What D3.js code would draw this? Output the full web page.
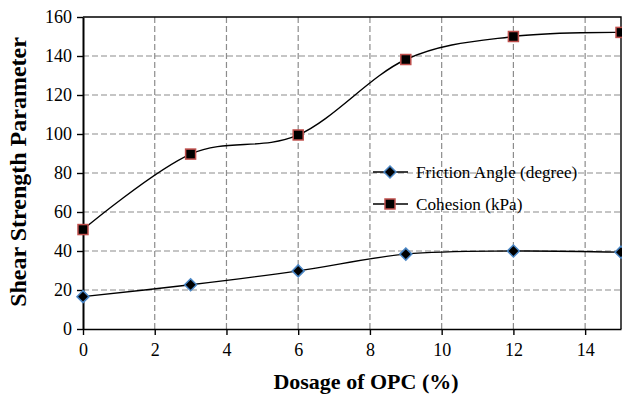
<!DOCTYPE html>
<html>
<head>
<meta charset="utf-8">
<script src="https://cdn.jsdelivr.net/npm/d3@7"></script>
<style>
  body { margin: 0; background: #fff; }
  text { font-family: "Liberation Serif", "Times New Roman", serif; }
</style>
</head>
<body>
<div id="chart"></div>
<script>
const dosage = [0, 3, 6, 9, 12, 15];
const friction = [16.6, 22.7, 29.8, 38.4, 40, 39.4];
const cohesion = [51, 89.7, 99.5, 138.2, 150, 152.1];
const seriesNames = ['Friction Angle (degree)', 'Cohesion (kPa)'];
const xTicks = [0, 2, 4, 6, 8, 10, 12, 14];
const yTicks = [0, 20, 40, 60, 80, 100, 120, 140, 160];

const width = 622;
const height = 399;
const margin = { top: 17, right: 1, bottom: 70, left: 83 };

const svg = d3.select('#chart')
  .append('svg')
  .attr('width', width)
  .attr('height', height);

const x = d3.scaleLinear()
  .domain([0, 15])
  .range([margin.left, width - margin.right]);

const y = d3.scaleLinear()
  .domain([0, 160])
  .range([height - margin.bottom, margin.top]);

// grid
svg.append('g')
  .selectAll('line')
  .data(yTicks.filter(d => d > 0 && d < 160))
  .join('line')
  .attr('x1', x(0)).attr('x2', x(15))
  .attr('y1', d => y(d)).attr('y2', d => y(d))
  .attr('stroke', '#8c8c8c')
  .attr('stroke-width', 1.2)
  .attr('stroke-dasharray', '6,3');

svg.append('g')
  .selectAll('line')
  .data(xTicks.filter(d => d > 0))
  .join('line')
  .attr('x1', d => x(d)).attr('x2', d => x(d))
  .attr('y1', y(0)).attr('y2', y(160))
  .attr('stroke', '#8c8c8c')
  .attr('stroke-width', 1.2)
  .attr('stroke-dasharray', '6,3');

// top and right border
svg.append('path')
  .attr('d', `M${x(0)},${y(160)}H${x(15)}V${y(0)}`)
  .attr('fill', 'none')
  .attr('stroke', '#000')
  .attr('stroke-width', 1.4);

// axes
const yAxis = svg.append('g')
  .attr('transform', `translate(${margin.left},0)`)
  .call(d3.axisLeft(y).tickValues(yTicks).tickSize(6).tickPadding(5).tickSizeOuter(0));
yAxis.select('.domain').attr('stroke-width', 2);

const xAxis = svg.append('g')
  .attr('transform', `translate(0,${height - margin.bottom})`)
  .call(d3.axisBottom(x).tickValues(xTicks).tickSize(6).tickPadding(8).tickSizeOuter(0));
xAxis.select('.domain').attr('stroke-width', 1.4);

svg.selectAll('.tick line').attr('stroke-width', 1.4);
svg.selectAll('.tick text')
  .attr('font-family', '"Liberation Serif", serif')
  .attr('font-size', 18)
  .attr('fill', '#000');

// lines
const line = d3.line()
  .x(d => x(d[0]))
  .y(d => y(d[1]))
  .curve(d3.curveCardinal.tension(0));

const fricData = dosage.map((d, i) => [d, friction[i]]);
const cohData = dosage.map((d, i) => [d, cohesion[i]]);

[fricData, cohData].forEach(data => {
  svg.append('path')
    .datum(data)
    .attr('d', line)
    .attr('fill', 'none')
    .attr('stroke', '#000')
    .attr('stroke-width', 1.4);
});

const diamond = (g, cx, cy) => g.append('path')
  .attr('d', `M${cx},${cy - 6}L${cx + 6},${cy}L${cx},${cy + 6}L${cx - 6},${cy}Z`)
  .attr('fill', '#000')
  .attr('stroke', '#4a86c5')
  .attr('stroke-width', 1.5);

const square = (g, cx, cy) => g.append('rect')
  .attr('x', cx - 5).attr('y', cy - 5)
  .attr('width', 10).attr('height', 10)
  .attr('fill', '#000')
  .attr('stroke', '#c0504d')
  .attr('stroke-width', 1.5);

const marks = svg.append('g');
fricData.forEach(d => diamond(marks, x(d[0]), y(d[1])));
cohData.forEach(d => square(marks, x(d[0]), y(d[1])));

// legend
const legend = svg.append('g');
const legendRows = [172, 204];
seriesNames.forEach((name, i) => {
  const ly = legendRows[i];
  legend.append('line')
    .attr('x1', 373).attr('x2', 408)
    .attr('y1', ly).attr('y2', ly)
    .attr('stroke', '#000').attr('stroke-width', 1.4);
  if (i === 0) diamond(legend, 390, ly);
  else square(legend, 390, ly);
  legend.append('text')
    .attr('x', 416).attr('y', ly + 6)
    .attr('font-size', 17.2)
    .text(name);
});

// titles
svg.append('text')
  .attr('x', 366)
  .attr('y', 389)
  .attr('text-anchor', 'middle')
  .attr('font-size', 22)
  .attr('font-weight', 'bold')
  .text('Dosage of OPC (%)');

svg.append('text')
  .attr('transform', 'translate(26,172) rotate(-90)')
  .attr('text-anchor', 'middle')
  .attr('font-size', 24)
  .attr('font-weight', 'bold')
  .text('Shear Strength Parameter');
</script>
</body>
</html>
